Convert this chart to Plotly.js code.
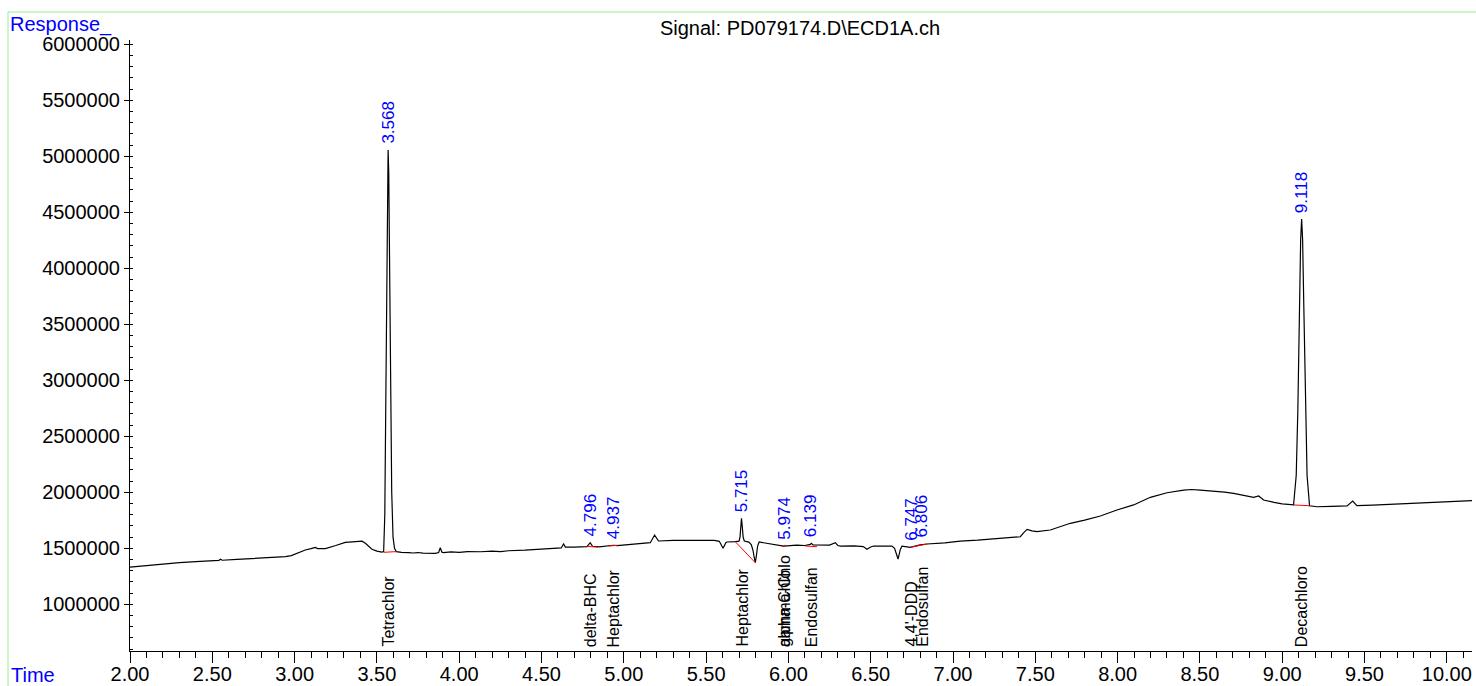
<!DOCTYPE html>
<html>
<head>
<meta charset="utf-8">
<script src="https://cdn.plot.ly/plotly-3.0.1.min.js"></script>
<style>html,body{margin:0;padding:0;background:#fff;}#chart{width:1476px;height:686px;}</style>
</head>
<body>
<div id="chart"></div>
<script>
// Signal trace (time in min, response)
const time = [2.00,2.10,2.20,2.234,2.30,2.40,2.50,2.54,2.55,2.56,2.65,2.75,2.85,2.944,2.98,3.02,3.065,3.10,3.126,3.14,3.187,3.25,3.308,3.35,3.389,3.41,3.43,3.47,3.50,3.530,3.541,3.548,3.554,3.560,3.564,3.568,3.572,3.577,3.583,3.590,3.598,3.607,3.618,3.65,3.693,3.72,3.75,3.78,3.855,3.875,3.885,3.895,3.905,3.95,4.00,4.05,4.13,4.20,4.25,4.30,4.40,4.493,4.55,4.62,4.634,4.645,4.70,4.776,4.796,4.81,4.85,4.898,4.937,4.96,5.05,5.12,5.161,5.187,5.211,5.30,5.40,5.465,5.55,5.58,5.603,5.62,5.627,5.677,5.700,5.706,5.710,5.715,5.720,5.725,5.732,5.760,5.775,5.785,5.792,5.799,5.806,5.813,5.822,5.90,5.971,6.05,6.10,6.133,6.139,6.15,6.25,6.285,6.30,6.316,6.40,6.455,6.477,6.50,6.518,6.629,6.645,6.666,6.68,6.69,6.740,6.80,6.842,6.95,7.044,7.15,7.25,7.358,7.409,7.43,7.45,7.48,7.51,7.591,7.693,7.713,7.80,7.895,7.996,8.097,8.199,8.30,8.401,8.45,8.502,8.563,8.65,8.705,8.77,8.826,8.857,8.887,8.95,9.00,9.069,9.085,9.095,9.105,9.112,9.118,9.124,9.131,9.141,9.151,9.166,9.211,9.30,9.394,9.428,9.454,9.55,9.65,9.75,9.819,9.95,10.05,10.153];
const response = [1331000,1345000,1360000,1366000,1372000,1380000,1388000,1392000,1402000,1393000,1401000,1410000,1418000,1425000,1435000,1458000,1485000,1497000,1508000,1497000,1497000,1525000,1553000,1557000,1559000,1563000,1545000,1491000,1475000,1466000,1470000,1800000,2800000,4200000,4850000,5056000,4850000,4100000,3000000,2000000,1600000,1500000,1470000,1463000,1461000,1458000,1462000,1456000,1455000,1462000,1505000,1465000,1461000,1468000,1463000,1470000,1469000,1475000,1470000,1478000,1483000,1491000,1495000,1503000,1538000,1510000,1510000,1515000,1550000,1518000,1512000,1520000,1527000,1524000,1535000,1546000,1550000,1618000,1565000,1570000,1572000,1574000,1570000,1562000,1500000,1550000,1556000,1560000,1563000,1600000,1690000,1768000,1690000,1600000,1565000,1555000,1530000,1480000,1420000,1371000,1440000,1520000,1556000,1535000,1520000,1528000,1525000,1535000,1544000,1530000,1528000,1550000,1525000,1520000,1522000,1515000,1491000,1512000,1520000,1520000,1500000,1404000,1490000,1520000,1509000,1530000,1538000,1548000,1563000,1572000,1583000,1598000,1603000,1640000,1669000,1655000,1648000,1663000,1708000,1723000,1752000,1788000,1842000,1887000,1955000,1996000,2020000,2025000,2020000,2014000,2002000,1991000,1972000,1955000,1967000,1931000,1910000,1896000,1887000,2150000,2735000,3675000,4253000,4440000,4253000,3675000,2735000,2150000,1880000,1871000,1874000,1878000,1922000,1880000,1885000,1892000,1898000,1902000,1912000,1918000,1925000];

// Integration baselines: start/end time and response
const baseStartT = [3.541,4.776,4.908,5.677,5.961,6.103,6.741,9.069];
const baseStartR = [1464000,1517000,1520000,1559000,1514000,1520000,1509000,1887000];
const baseEndT   = [3.618,4.841,4.962,5.799,5.981,6.174,6.842,9.166];
const baseEndR   = [1470000,1510000,1527000,1371000,1529000,1514000,1538000,1880000];

// Peak retention times and apex responses
const peakRT   = [3.568,4.796,4.937,5.715,5.974,6.139,6.747,6.806,9.118];
const peakApex = [5056000,1550000,1527000,1768000,1520000,1544000,1512000,1540000,4440000];

// Compound names and their times
const compoundNames = ["Tetrachlor","delta-BHC","Heptachlor","Heptachlor","gamma-Chlo","alpha-Chlo","Endosulfan","4,4'-DDD","Endosulfan","Decachloro"];
const compoundRT    = [3.568,4.796,4.937,5.715,5.972,5.978,6.139,6.745,6.810,9.118];

const xTickStart = 2.0, xTickStep = 0.5;
const yTickStep = 500000;

const FONT = "Liberation Sans, Arial, sans-serif";
const traces = [{
  x: time, y: response, type: 'scatter', mode: 'lines',
  line: {color: '#000000', width: 1.2}, hoverinfo: 'skip'
}];
for (let i = 0; i < baseStartT.length; i++) {
  traces.push({
    x: [baseStartT[i], baseEndT[i]], y: [baseStartR[i], baseEndR[i]],
    type: 'scatter', mode: 'lines', line: {color: '#ff0000', width: 1}, hoverinfo: 'skip'
  });
}

const W = 1476, H = 686, ml = 130, mr = 4, mt = 40, mb = 35;
const pw = W - ml - mr, ph = H - mt - mb;
const px = p => (p - ml) / pw;
const py = p => (H - mb - p) / ph;

const annotations = [];
peakRT.forEach((rt, i) => {
  annotations.push({
    x: rt, y: peakApex[i], xref: 'x', yref: 'y', text: rt.toFixed(3),
    textangle: -90, showarrow: false, xanchor: 'center', yanchor: 'bottom', yshift: 4,
    font: {family: FONT, size: 17, color: '#0000ff'}
  });
});
compoundNames.forEach((nm, i) => {
  annotations.push({
    x: compoundRT[i], y: py(649), xref: 'x', yref: 'paper', text: nm,
    textangle: -90, showarrow: false, xanchor: 'center', yanchor: 'bottom',
    font: {family: FONT, size: 16, color: '#000000'}
  });
});
annotations.push({x: px(8), y: py(24), xref: 'paper', yref: 'paper', text: 'Response_', showarrow: false,
  xanchor: 'left', yanchor: 'middle', font: {family: FONT, size: 20, color: '#0000ff'}});
annotations.push({x: px(9), y: py(675), xref: 'paper', yref: 'paper', text: 'Time', showarrow: false,
  xanchor: 'left', yanchor: 'middle', font: {family: FONT, size: 20, color: '#0000ff'}});

const layout = {
  width: W, height: H,
  margin: {l: ml, r: mr, t: mt, b: mb, pad: 0},
  paper_bgcolor: '#ffffff', plot_bgcolor: '#ffffff',
  showlegend: false,
  font: {family: FONT, size: 20, color: '#000000'},
  title: {text: 'Signal: PD079174.D\\ECD1A.ch', xref: 'container', yref: 'container',
    x: 800 / W, xanchor: 'center', y: 1 - 28 / H, yanchor: 'middle',
    font: {family: FONT, size: 20, color: '#000000'}},
  xaxis: {
    range: [2.0, 10.153], tick0: xTickStart, dtick: xTickStep, tickformat: '.2f',
    ticks: 'outside', ticklen: 11, tickwidth: 1, tickcolor: '#000', ticklabelstandoff: -6,
    showline: true, linecolor: '#000', linewidth: 1, showgrid: false, zeroline: false,
    tickfont: {family: FONT, size: 20, color: '#000'},
    minor: {dtick: 0.1, ticks: 'outside', ticklen: 6, tickcolor: '#000', tickwidth: 1, showgrid: false}
  },
  yaxis: {
    range: [582800, 6038400], tick0: 0, dtick: yTickStep, tickformat: 'd',
    ticks: 'outside', ticklen: 5, tickwidth: 1, tickcolor: '#000',
    showline: true, linecolor: '#000', linewidth: 1, showgrid: false, zeroline: false,
    tickfont: {family: FONT, size: 20, color: '#000'},
    minor: {dtick: 100000, ticks: 'inside', ticklen: 3, tickcolor: '#000', tickwidth: 1, showgrid: false}
  },
  annotations: annotations,
  shapes: [{type: 'rect', xref: 'paper', yref: 'paper',
    x0: px(8), x1: px(1500), y0: py(720), y1: py(12),
    line: {color: '#90ee90', width: 1}, fillcolor: 'rgba(0,0,0,0)', layer: 'below'}]
};

Plotly.newPlot('chart', traces, layout, {displayModeBar: false, staticPlot: true});
</script>
</body>
</html>
